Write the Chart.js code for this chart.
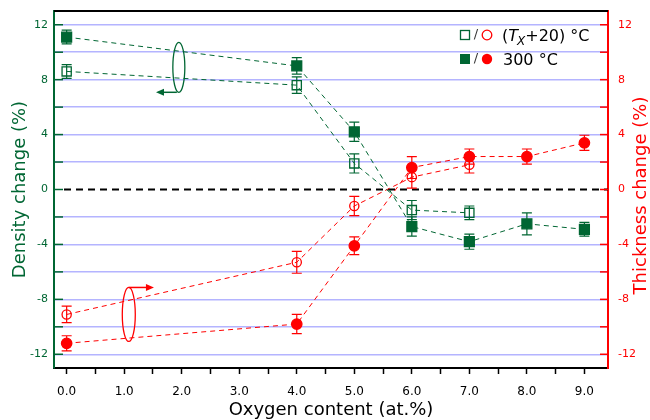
<!DOCTYPE html>
<html>
<head>
<meta charset="utf-8">
<script src="https://cdn.jsdelivr.net/npm/chart.js@4/dist/chart.umd.min.js"></script>
<style>
  body { margin: 0; background: #fff; }
  #wrap { width: 650px; height: 420px; }
</style>
</head>
<body>
<div id="wrap"><canvas id="mychart" width="650" height="420"></canvas></div>
<script>
// oxygen content (at.%)
var oxygenTx = [0, 4, 5, 6, 7];
var oxygen300 = [0, 4, 5, 6, 7, 8, 9];

// density change (%) - green squares
var densityTx = [8.6, 7.6, 1.9, -1.5, -1.7];
var densityTxErr = [0.5, 0.6, 0.7, 0.7, 0.5];
var density300 = [11.1, 9.0, 4.2, -2.7, -3.8, -2.5, -2.9];
var density300Err = [0.5, 0.6, 0.7, 0.7, 0.55, 0.8, 0.5];

// thickness change (%) - red circles
var thickTx = [-9.1, -5.3, -1.2, 0.9, 1.8];
var thickTxErr = [0.6, 0.8, 0.7, 0.8, 0.6];
var thick300 = [-11.2, -9.8, -4.1, 1.6, 2.4, 2.4, 3.4];
var thick300Err = [0.55, 0.7, 0.65, 0.8, 0.55, 0.55, 0.55];

// tick positions (labels only on every other y tick / whole x values)
var yTicks = [-12, -10, -8, -6, -4, -2, 0, 2, 4, 6, 8, 10, 12];
var xTicks = [0, 0.5, 1, 1.5, 2, 2.5, 3, 3.5, 4, 4.5, 5, 5.5, 6, 6.5, 7, 7.5, 8, 8.5, 9];

var green = "#006633";
var red = "#ff0000";
var gridBlue = "#b4b4ff";
var font = "'DejaVu Sans', Verdana, sans-serif";

function toPoints(xs, ys) {
	var pts = [];
	for (var i = 0; i < xs.length; i++) {
		pts.push({x: xs[i], y: ys[i]});
	}
	return pts;
}

function setTicks(values) {
	return function(scale) {
		scale.ticks = values.map(function(v) { return {value: v}; });
	};
}

// fixed box sizes so the plot area lands where the original one is
function fixWidth(w) {
	return function(s) { s.width = w; s.paddingTop = 0; s.paddingBottom = 0; };
}

function makeDataset(label, xs, ys, errs, axis, color, style, radius, filled) {
	return {
		label: label,
		data: toPoints(xs, ys),
		errors: errs,
		yAxisID: axis,
		borderColor: color,
		borderWidth: 1,
		borderDash: [5, 4],
		fill: false,
		tension: 0,
		pointStyle: style,
		pointRadius: radius,
		pointBorderColor: color,
		pointBorderWidth: 1.3,
		pointBackgroundColor: filled ? color : "rgba(0,0,0,0)"
	};
}

var datasets = [
	makeDataset("Density (Tx+20)", oxygenTx, densityTx, densityTxErr, "yL", green, "rect", 6.5, false),
	makeDataset("Density 300", oxygen300, density300, density300Err, "yL", green, "rect", 7, true),
	makeDataset("Thickness (Tx+20)", oxygenTx, thickTx, thickTxErr, "yR", red, "circle", 4.6, false),
	makeDataset("Thickness 300", oxygen300, thick300, thick300Err, "yR", red, "circle", 5.2, true)
];

function arrowHead(ctx, x, y, dir) {
	ctx.beginPath();
	ctx.moveTo(x, y);
	ctx.lineTo(x - dir * 8, y - 3.5);
	ctx.lineTo(x - dir * 8, y + 3.5);
	ctx.closePath();
	ctx.fill();
}

// error bars, zero line, inner ticks, annotations, legend
var decor = {
	id: "decor",
	beforeDatasetsDraw: function(chart) {
		var ctx = chart.ctx;
		var area = chart.chartArea;
		var yL = chart.scales.yL;
		ctx.save();

		// zero line
		var y0 = yL.getPixelForValue(0);
		ctx.strokeStyle = "#000";
		ctx.lineWidth = 2.2;
		ctx.setLineDash([7, 5]);
		ctx.beginPath();
		ctx.moveTo(area.left + 10, y0);
		ctx.lineTo(area.right, y0);
		ctx.stroke();
		ctx.setLineDash([]);

		// error bars
		chart.data.datasets.forEach(function(ds, i) {
			var meta = chart.getDatasetMeta(i);
			var scale = chart.scales[ds.yAxisID];
			ctx.strokeStyle = ds.borderColor;
			ctx.lineWidth = 1.2;
			meta.data.forEach(function(pt, j) {
				var v = ds.data[j].y;
				var e = ds.errors[j];
				var top = scale.getPixelForValue(v + e);
				var bot = scale.getPixelForValue(v - e);
				ctx.beginPath();
				ctx.moveTo(pt.x, top);
				ctx.lineTo(pt.x, bot);
				ctx.moveTo(pt.x - 5, top);
				ctx.lineTo(pt.x + 5, top);
				ctx.moveTo(pt.x - 5, bot);
				ctx.lineTo(pt.x + 5, bot);
				ctx.stroke();
			});
		});
		ctx.restore();
	},
	afterDraw: function(chart) {
		var ctx = chart.ctx;
		var area = chart.chartArea;
		var x = chart.scales.x;
		var yL = chart.scales.yL;
		var yR = chart.scales.yR;
		ctx.save();

		// top frame
		ctx.strokeStyle = "#000";
		ctx.lineWidth = 2;
		ctx.beginPath();
		ctx.moveTo(area.left, area.top);
		ctx.lineTo(area.right, area.top);
		ctx.stroke();

		// inward ticks on both y axes
		ctx.lineWidth = 1.5;
		yL.ticks.forEach(function(t) {
			var py = yL.getPixelForValue(t.value);
			ctx.strokeStyle = green;
			ctx.beginPath();
			ctx.moveTo(area.left, py);
			ctx.lineTo(area.left + 9, py);
			ctx.stroke();
		});
		yR.ticks.forEach(function(t) {
			var py = yR.getPixelForValue(t.value);
			ctx.strokeStyle = red;
			ctx.beginPath();
			ctx.moveTo(area.right - 8, py);
			ctx.lineTo(area.right, py);
			ctx.stroke();
		});

		// green ellipse + arrow (density -> left axis)
		var gx = x.getPixelForValue(1.95);
		var gy = yL.getPixelForValue(8.9);
		ctx.strokeStyle = green;
		ctx.fillStyle = green;
		ctx.lineWidth = 1.3;
		ctx.beginPath();
		ctx.ellipse(gx, gy, 6, 25, 0, 0, 2 * Math.PI);
		ctx.stroke();
		ctx.lineWidth = 1.5;
		ctx.beginPath();
		ctx.moveTo(gx - 2, gy + 25);
		ctx.lineTo(x.getPixelForValue(1.6), gy + 25);
		ctx.stroke();
		arrowHead(ctx, x.getPixelForValue(1.57) - 1, gy + 25, -1);

		// red ellipse + arrow (thickness -> right axis)
		var rx = x.getPixelForValue(1.08);
		var ry = yR.getPixelForValue(-9.1);
		ctx.strokeStyle = red;
		ctx.fillStyle = red;
		ctx.lineWidth = 1.3;
		ctx.beginPath();
		ctx.ellipse(rx, ry, 6.5, 27, 0, 0, 2 * Math.PI);
		ctx.stroke();
		ctx.lineWidth = 1.5;
		ctx.beginPath();
		ctx.moveTo(rx, ry - 27);
		ctx.lineTo(x.getPixelForValue(1.45), ry - 27);
		ctx.stroke();
		arrowHead(ctx, x.getPixelForValue(1.5) + 1, ry - 27, 1);

		// legend
		var lx = area.right - 143;
		var rows = [area.top + 24, area.top + 48];
		rows.forEach(function(cy, r) {
			var filled = r === 1;
			ctx.lineWidth = 1.3;
			ctx.strokeStyle = green;
			ctx.fillStyle = green;
			if (filled) {
				ctx.fillRect(lx - 5, cy - 5, 10, 10);
			} else {
				ctx.strokeRect(lx - 4.5, cy - 4.5, 9, 9);
			}
			ctx.fillStyle = "#333";
			ctx.font = "13px " + font;
			ctx.textAlign = "center";
			ctx.textBaseline = "middle";
			ctx.fillText("/", lx + 11, cy);
			ctx.strokeStyle = red;
			ctx.fillStyle = red;
			ctx.beginPath();
			ctx.arc(lx + 22, cy, filled ? 5.2 : 4.8, 0, 2 * Math.PI);
			if (filled) ctx.fill(); else ctx.stroke();
		});
		ctx.fillStyle = "#000";
		ctx.textAlign = "left";
		ctx.textBaseline = "alphabetic";
		var tx = lx + 37;
		var base1 = rows[0] + 6;
		ctx.font = "16px " + font;
		ctx.fillText("(", tx, base1);
		tx += ctx.measureText("(").width;
		ctx.font = "italic 16px " + font;
		ctx.fillText("T", tx, base1);
		tx += ctx.measureText("T").width - 1;
		ctx.font = "italic 12px " + font;
		ctx.fillText("X", tx, base1 + 4);
		tx += ctx.measureText("X").width;
		ctx.font = "16px " + font;
		ctx.fillText("+20) \u00b0C", tx, base1);
		ctx.fillText("300 \u00b0C", lx + 38, rows[1] + 6);

		// right axis title (reads bottom to top)
		ctx.save();
		ctx.translate(641, (area.top + area.bottom) / 2 + 6);
		ctx.rotate(-Math.PI / 2);
		ctx.fillStyle = red;
		ctx.font = "18px " + font;
		ctx.textAlign = "center";
		ctx.textBaseline = "middle";
		ctx.fillText("Thickness change (%)", 0, 0);
		ctx.restore();

		ctx.restore();
	}
};

var ctx = document.getElementById("mychart");
var myChart = new Chart(ctx, {
	type: "line",
	data: { datasets: datasets },
	plugins: [decor],
	options: {
		responsive: false,
		animation: false,
		events: [],
		layout: { padding: { top: 11 } },
		plugins: {
			legend: { display: false },
			tooltip: { enabled: false }
		},
		scales: {
			x: {
				type: "linear",
				min: -0.22,
				max: 9.41,
				afterBuildTicks: setTicks(xTicks),
				afterFit: function(s) { s.height = 52; s.paddingLeft = 0; s.paddingRight = 0; },
				border: { color: "#000", width: 2 },
				grid: { drawOnChartArea: false, drawTicks: true, tickLength: 6, tickColor: "#000", tickWidth: 1.5 },
				ticks: {
					autoSkip: false,
					maxRotation: 0,
					padding: 11,
					color: "#000",
					font: { family: font, size: 12 },
					callback: function(v) { return Number.isInteger(v) ? v.toFixed(1) : ""; }
				},
				title: {
					display: true,
					text: "Oxygen content (at.%)",
					color: "#000",
					font: { family: font, size: 18, lineHeight: 1.1 },
					padding: 0
				}
			},
			yL: {
				position: "left",
				min: -13,
				max: 13,
				afterBuildTicks: setTicks(yTicks),
				afterFit: fixWidth(54),
				border: { color: green, width: 2 },
				grid: {
					drawTicks: false,
					lineWidth: 1.5,
					color: function(c) { return c.tick && c.tick.value === 0 ? "rgba(0,0,0,0)" : gridBlue; }
				},
				ticks: {
					autoSkip: false,
					padding: 6,
					color: green,
					font: { family: font, size: 11 },
					callback: function(v) { return v % 4 === 0 ? String(v) : ""; }
				},
				title: {
					display: true,
					text: "Density change (%)",
					color: green,
					font: { family: font, size: 18 },
					padding: { top: 10 }
				}
			},
			yR: {
				position: "right",
				min: -13,
				max: 13,
				afterBuildTicks: setTicks(yTicks),
				afterFit: fixWidth(42),
				border: { color: red, width: 2 },
				grid: { drawOnChartArea: false, drawTicks: false },
				ticks: {
					autoSkip: false,
					padding: 10,
					color: red,
					font: { family: font, size: 11 },
					callback: function(v) { return v % 4 === 0 ? String(v) : ""; }
				}
			}
		}
	}
});
</script>
</body>
</html>
